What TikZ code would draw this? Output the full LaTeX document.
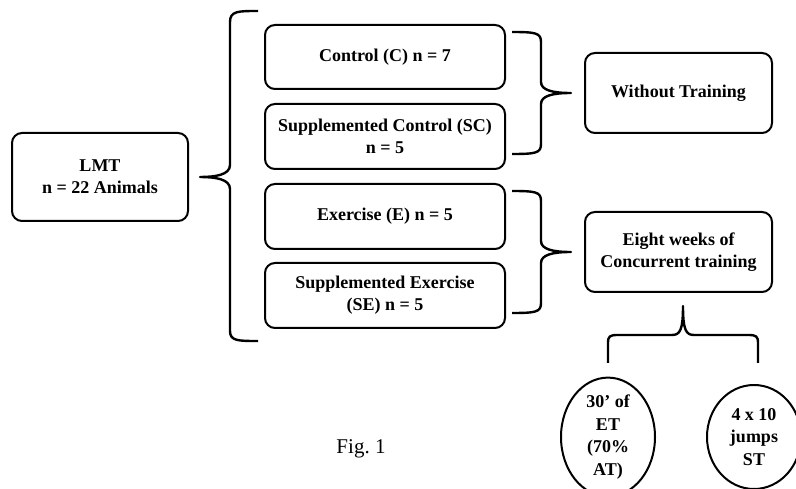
\documentclass[tikz,border=0pt]{standalone}
\usepackage{fontspec}
\setmainfont{Liberation Serif}
\usetikzlibrary{shapes.geometric}
\begin{document}
\begin{tikzpicture}[x=1pt,y=-1pt,
  box/.style={draw,line width=2pt,rounded corners=10pt,align=center,font=\bfseries\fontsize{18}{22}\selectfont,inner sep=0pt},
  circ/.style={draw,line width=2pt,ellipse,minimum width=94pt,minimum height=104pt,align=center,font=\bfseries\fontsize{18}{22.5}\selectfont,inner sep=0pt},
  brace/.style={draw,line width=2.4pt,line join=round}]
\useasboundingbox (0,0) rectangle (796,489);
\node[box,minimum width=176pt,minimum height=88pt] (lmt) at (100,177) {LMT\\n = 22 Animals};
\node[box,minimum width=240pt,minimum height=64pt] (c) at (385,57) {Control (C) n = 7};
\node[box,minimum width=240pt,minimum height=65pt] (sc) at (385,136.5) {Supplemented Control (SC)\\n = 5};
\node[box,minimum width=240pt,minimum height=65pt] (e) at (385,216.5) {Exercise (E) n = 5};
\node[box,minimum width=240pt,minimum height=65pt] (se) at (385,295.5) {Supplemented Exercise\\(SE) n = 5};
\node[box,minimum width=187pt,minimum height=80pt] (wt) at (678.5,93) {Without Training};
\node[box,minimum width=187pt,minimum height=80pt] (ew) at (678.5,252) {Eight weeks of\\Concurrent training};
\node[circ] (et) at (608,437) {30' of\\ET\\(70\%\\AT)};
\node[circ] (st) at (754,437) {4 x 10\\jumps\\ST};
\node[font=\fontsize{21}{24}\selectfont] (fig) at (361,449) {Fig.\ 1};
% big brace
\coordinate (b1) at (200,177);
\draw[brace] (258,11) .. controls (238,11) and (230,11) .. (230,22) -- (230,165)
  .. controls (230,175) and (215,177) .. (b1)
  .. controls (215,177) and (230,179) .. (230,189) -- (230,331)
  .. controls (230,341) and (238,341) .. (258,341);
% brace 1
\coordinate (b2) at (571,93);
\draw[brace] (512,32) .. controls (536,32) and (541,33) .. (541,42) -- (541,82)
  .. controls (541,90) and (552,93) .. (b2)
  .. controls (552,93) and (541,96) .. (541,104) -- (541,144)
  .. controls (541,153) and (536,154) .. (512,154);
% brace 2
\coordinate (b3) at (571,252);
\draw[brace] (512,191) .. controls (536,191) and (541,192) .. (541,201) -- (541,241)
  .. controls (541,249) and (552,252) .. (b3)
  .. controls (552,252) and (541,255) .. (541,263) -- (541,303)
  .. controls (541,312) and (536,313) .. (512,313);
% bottom brace
\coordinate (b4) at (683,306);
\draw[brace] (608,363) -- (608,343) .. controls (608,336) and (610,335) .. (618,335) -- (672,335)
  .. controls (680,335) and (683,330) .. (b4)
  .. controls (683,330) and (686,335) .. (694,335) -- (748,335)
  .. controls (756,335) and (758,336) .. (758,343) -- (758,363);
\end{tikzpicture}
\end{document}
